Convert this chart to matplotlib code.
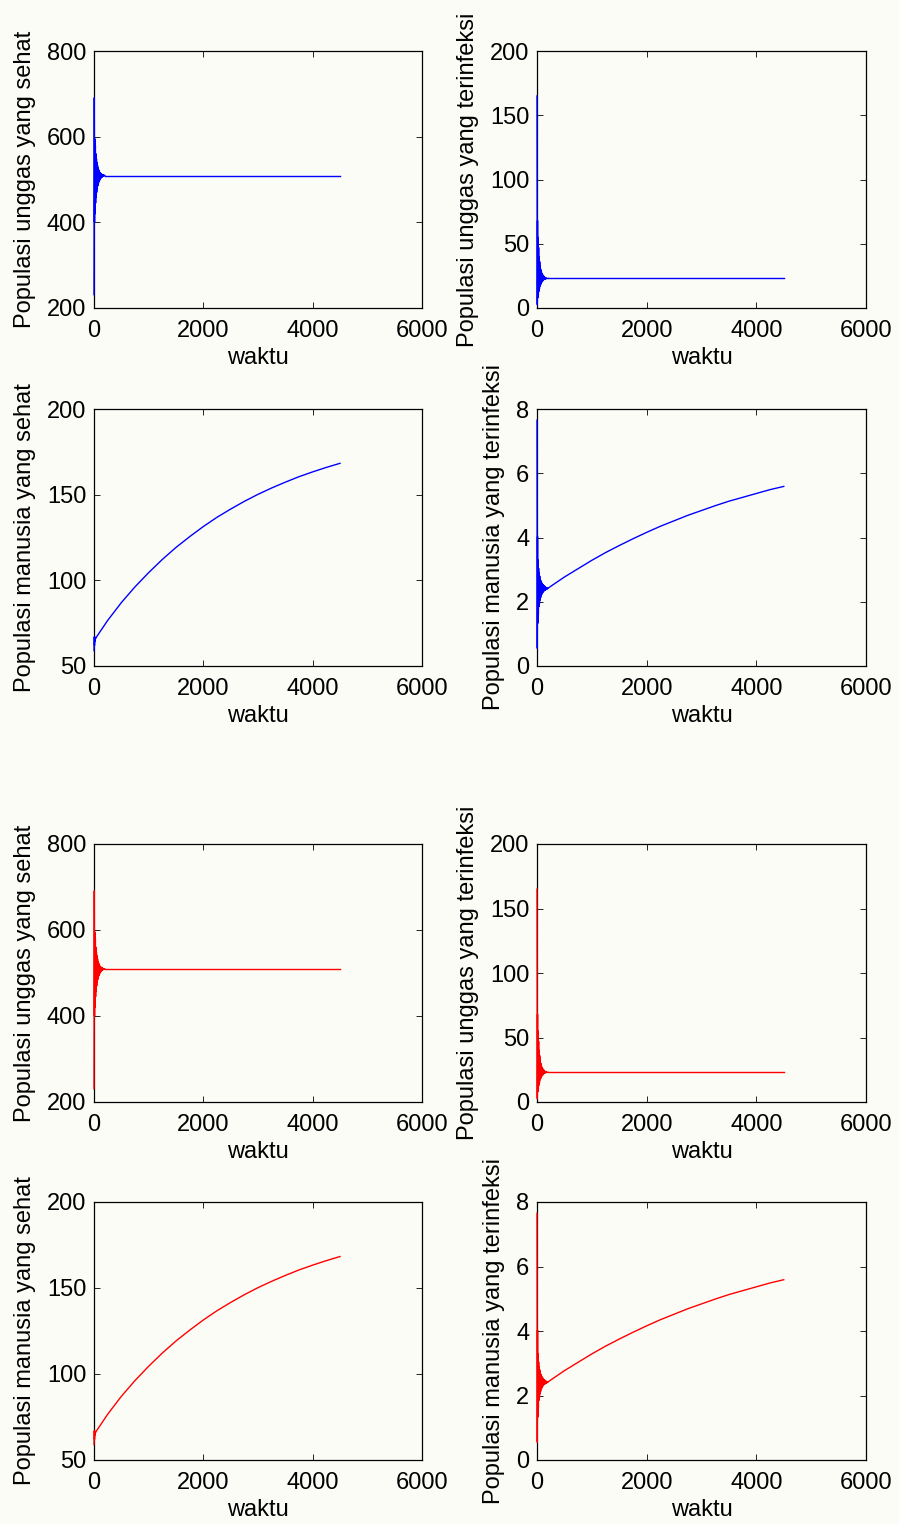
import matplotlib
matplotlib.use("Agg")
import matplotlib.pyplot as plt

plt.rcParams["font.family"] = ["Liberation Sans", "DejaVu Sans"]
plt.rcParams["font.size"] = 17

# time grid of the early oscillation (first 200 time units)
t_osc = list(range(0, 205, 5))

# poultry, healthy: oscillation then steady state
su_osc = [231, 691, 400, 595, 420, 580, 445, 560, 458, 548, 470, 540, 478, 533,
          485, 527, 490, 523, 494, 520, 497, 517, 500, 515, 502, 514, 504, 513,
          505, 512, 506, 511, 507, 511, 508, 510, 508.5, 510, 509, 509.5, 509]
su_tail_t = [200, 4500]
su_tail = [509, 509]

# poultry, infected
iu_osc = [165, 2.6, 68, 7.8, 55, 10, 47, 13, 40, 15, 36, 17, 33, 18, 30, 19,
          28.5, 20, 27, 20.5, 26, 21, 25.5, 21.5, 25, 22, 24.5, 22.3, 24, 22.5,
          23.6, 22.7, 23.4, 22.8, 23.2, 22.9, 23.1, 23, 23, 23, 23]
iu_tail_t = [200, 4500]
iu_tail = [23, 23]

# humans, healthy: short wobble then smooth growth
sm_osc_t = [0, 5, 10, 15, 20, 25, 30]
sm_osc = [59, 67, 62, 66.5, 64.5, 66.8, 66.2]
curve_t = [30, 250, 500, 750, 1000, 1250, 1500, 1750, 2000, 2250, 2500, 2750,
           3000, 3250, 3500, 3750, 4000, 4250, 4500]
sm_curve = [66.2, 76.6, 87.0, 96.2, 104.5, 112.2, 119.2, 125.5, 131.4, 136.8,
            141.6, 146.1, 150.2, 153.9, 157.3, 160.5, 163.3, 165.9, 168.3]

# humans, infected
im_osc = [7.65, 0.55, 4.03, 1.33, 3.3, 1.6, 3.04, 1.85, 2.9, 1.95, 2.8, 2.05,
          2.72, 2.12, 2.66, 2.18, 2.62, 2.22, 2.58, 2.26, 2.55, 2.29, 2.53, 2.31,
          2.51, 2.33, 2.49, 2.35, 2.48, 2.36, 2.46, 2.37, 2.45, 2.38, 2.44, 2.39,
          2.43, 2.4, 2.42, 2.41, 2.42]
im_curve_t = [200, 250, 500, 750, 1000, 1250, 1500, 1750, 2000, 2250, 2500,
              2750, 3000, 3250, 3500, 3750, 4000, 4250, 4500]
im_curve = [2.42, 2.48, 2.77, 3.03, 3.29, 3.53, 3.75, 3.96, 4.16, 4.35, 4.52,
            4.69, 4.84, 4.99, 5.13, 5.25, 5.37, 5.49, 5.59]

ylabels = ["Populasi unggas yang sehat", "Populasi unggas yang terinfeksi",
           "Populasi manusia yang sehat", "Populasi manusia yang terinfeksi"]
yticks = [[200, 400, 600, 800], [0, 50, 100, 150, 200],
          [50, 100, 150, 200], [0, 2, 4, 6, 8]]
xticks = [0, 2000, 4000, 6000]

bg = "#fcfcf7"
fig = plt.figure(figsize=(8.99, 15.24), dpi=100, facecolor=bg)

W, H = 899, 1524
col_left = [94, 537]
col_right = [422, 866]
row_top = [51, 409, 844, 1202]
row_bot = [308, 666, 1102, 1460]


def series(k):
    if k == 0:
        return [(t_osc, su_osc), (su_tail_t, su_tail)]
    if k == 1:
        return [(t_osc, iu_osc), (iu_tail_t, iu_tail)]
    if k == 2:
        return [(sm_osc_t, sm_osc), (curve_t, sm_curve)]
    return [(t_osc, im_osc), (im_curve_t, im_curve)]


for group, color in enumerate(["#0000ff", "#ff0000"]):
    for k in range(4):
        r = group * 2 + k // 2
        c = k % 2
        ax = fig.add_axes([col_left[c] / W, 1 - row_bot[r] / H,
                           (col_right[c] - col_left[c]) / W,
                           (row_bot[r] - row_top[r]) / H])
        ax.set_facecolor(bg)
        for xs, ys in series(k):
            # drawn above the spine, like the original figure
            ax.plot(xs, ys, color=color, lw=1.0, zorder=3, clip_on=False)
        ax.set_xlim(0, 6000)
        ax.set_ylim(yticks[k][0], yticks[k][-1])
        ax.set_xticks(xticks)
        ax.set_yticks(yticks[k])
        ax.tick_params(direction="in", top=True, right=True, length=4,
                       width=0.6, labelsize=17)
        ax.tick_params(axis="x", pad=8.5)
        ax.tick_params(axis="y", pad=5.5)
        for s in ax.spines.values():
            s.set_linewidth(0.9)
        ax.set_xlabel("waktu", fontsize=17, labelpad=4)
        ax.set_ylabel(ylabels[k], fontsize=17, labelpad=8)

fig.savefig("out.png", dpi=100, facecolor=bg)
